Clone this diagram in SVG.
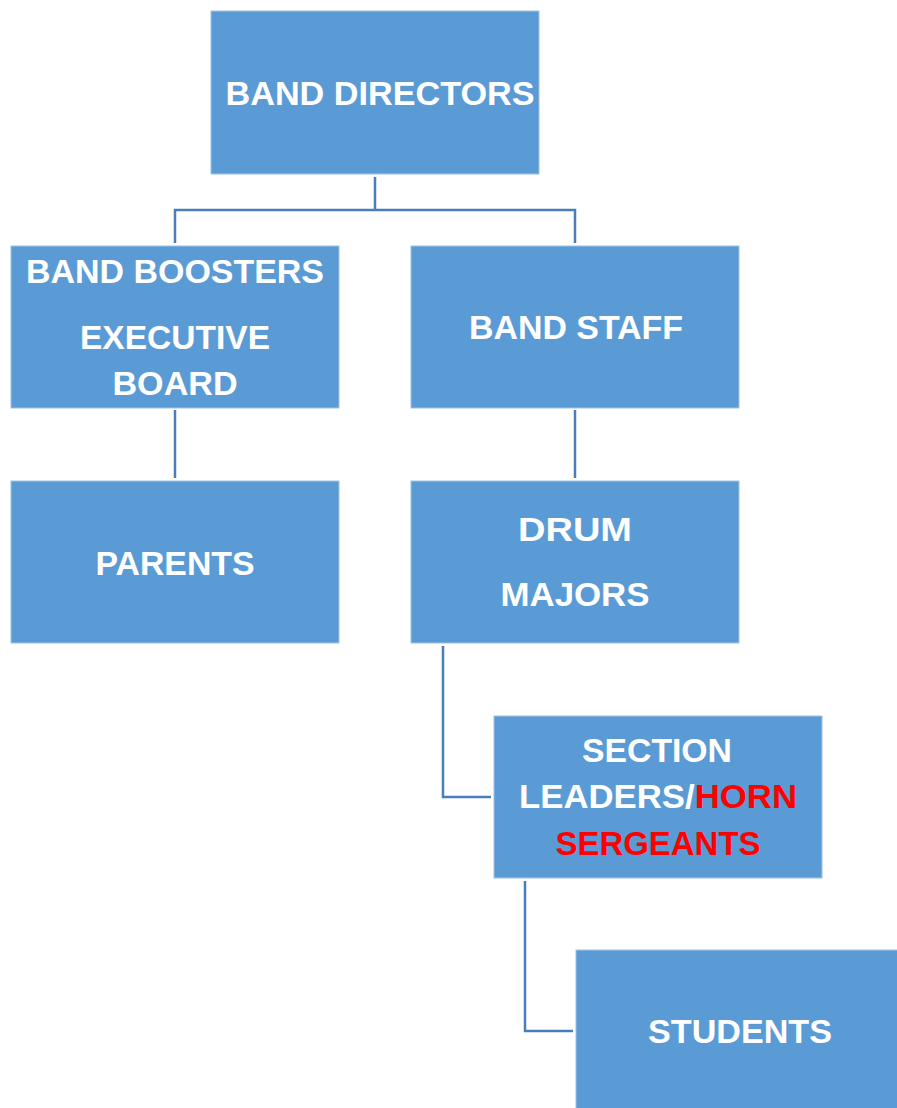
<svg xmlns="http://www.w3.org/2000/svg" width="897" height="1108" viewBox="0 0 897 1108">
<style>
.box{fill:#5B9BD5;stroke:#9DC3E6;stroke-width:1}
.t{font-family:"Liberation Sans",Arial,sans-serif;font-weight:bold;font-size:33px;fill:#FFFFFF;text-anchor:middle}
.red{fill:#FF0000}
.c{fill:none;stroke:#4A7EBB;stroke-width:2.5}
</style>
<rect width="897" height="1108" fill="#FFFFFF"/>
<g id="connectors">
<path class="c" d="M375,177 V210 M175,243 V210 H575 V243"/>
<path class="c" d="M175,410 V478"/>
<path class="c" d="M575,410 V478"/>
<path class="c" d="M443,646 V797 H491"/>
<path class="c" d="M525,881 V1031 H573"/>
</g>
<g id="band-directors">
<rect class="box" x="211" y="11" width="328" height="163"/>
<text class="t" x="380" y="105" textLength="309" lengthAdjust="spacingAndGlyphs">BAND DIRECTORS</text>
</g>
<g id="band-boosters">
<rect class="box" x="11" y="246" width="328" height="162"/>
<text class="t" x="175" y="283" textLength="298" lengthAdjust="spacingAndGlyphs">BAND BOOSTERS</text>
<text class="t" x="175" y="349" textLength="190" lengthAdjust="spacingAndGlyphs">EXECUTIVE</text>
<text class="t" x="175" y="395" textLength="125" lengthAdjust="spacingAndGlyphs">BOARD</text>
</g>
<g id="band-staff">
<rect class="box" x="411" y="246" width="328" height="162"/>
<text class="t" x="576" y="339" textLength="214" lengthAdjust="spacingAndGlyphs">BAND STAFF</text>
</g>
<g id="parents">
<rect class="box" x="11" y="481" width="328" height="162"/>
<text class="t" x="175" y="575" textLength="159" lengthAdjust="spacingAndGlyphs">PARENTS</text>
</g>
<g id="drum-majors">
<rect class="box" x="411" y="481" width="328" height="162"/>
<text class="t" x="575" y="541" textLength="114" lengthAdjust="spacingAndGlyphs">DRUM</text>
<text class="t" x="575" y="606" textLength="149" lengthAdjust="spacingAndGlyphs">MAJORS</text>
</g>
<g id="section-leaders">
<rect class="box" x="494" y="716" width="328" height="162"/>
<text class="t" x="657" y="762" textLength="150" lengthAdjust="spacingAndGlyphs">SECTION</text>
<text class="t" x="658" y="808" textLength="278" lengthAdjust="spacingAndGlyphs">LEADERS/<tspan class="red">HORN</tspan></text>
<text class="t red" x="658" y="855" textLength="205" lengthAdjust="spacingAndGlyphs">SERGEANTS</text>
</g>
<g id="students">
<rect class="box" x="576" y="950" width="328" height="162"/>
<text class="t" x="740" y="1043" textLength="184" lengthAdjust="spacingAndGlyphs">STUDENTS</text>
</g>
</svg>
